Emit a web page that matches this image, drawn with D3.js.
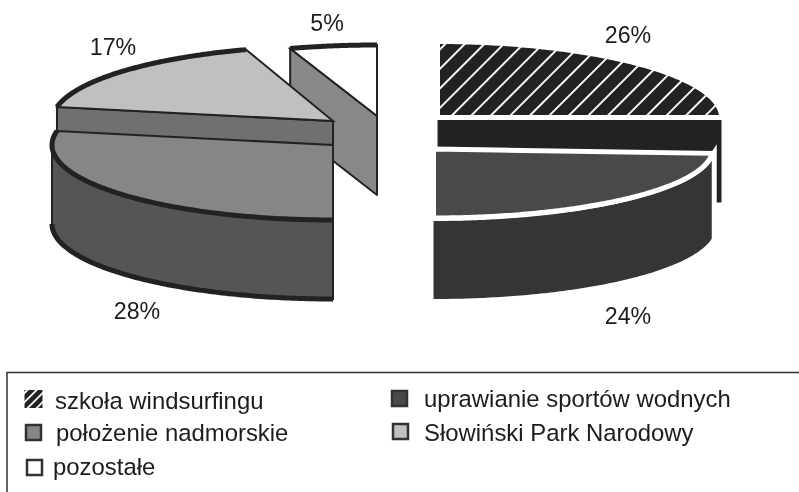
<!DOCTYPE html>
<html><head><meta charset="utf-8">
<script src="https://cdn.jsdelivr.net/npm/d3@7"></script>
<style>html,body{margin:0;padding:0;background:#fff}svg{display:block}text{font-family:"Liberation Sans",Arial,sans-serif;fill:#1c1c1c}</style>
</head><body><svg id="c" width="799" height="492"></svg>
<script>
const categories = ["szkoła windsurfingu","uprawianie sportów wodnych","położenie nadmorskie","Słowiński Park Narodowy","pozostałe"];
const values = [26,24,28,17,5];
const faceColors = ["url(#hatch)","#4a4a4a","#868686","#c0c0c0","#ffffff"];
const wallColors = ["#222222","#353535","#555555","#707070","#888888"];
const pivotX = [437.5,433.5,333,333,377];
const pivotY = [117.5,149,145,121,116];
const radiusX = [284,279,281,281,281];
const radiusY = [76,69,75,75,71];
const edgeTilt = [-0.0628,0,0,0,0];
const wallPad = [0,3,0,0,0];
const wallLimit = [Infinity,712,Infinity,Infinity,Infinity];
const wallExtra = [6,-1,0,0,0];
const labelX = [628,628,137,113,327];
const labelY = [43,324,319,55,31];
const legendX = [24.5,391,25,392,26];
const legendY = [390,390,424,423,459];
const legendSize = [18,15,15,15,15];
const legendTextX = [55,424,56,424,53];
const legendBase = [409,407,441,441,475];
const drawOrder = [4,0,3,1,2];

const svg = d3.select("#c");
const defs = svg.append("defs");
function hatch(id,size,w){
  const p = defs.append("pattern").attr("id",id).attr("patternUnits","userSpaceOnUse")
    .attr("width",size).attr("height",size).attr("patternTransform","rotate(45)");
  p.append("rect").attr("width",size).attr("height",size).attr("fill","#222");
  p.append("rect").attr("width",w).attr("height",size).attr("fill","#fff");
}
hatch("hatch",13.8,1.9);
hatch("hatchS",6.4,1.7);
defs.append("filter").attr("id","soft").append("feGaussianBlur").attr("stdDeviation",0.45);
const root = svg.append("g").attr("filter","url(#soft)");

const arcs = d3.pie().sort(null).value(d=>d)(values);
const depth = 79;
const line = d3.line().x(d=>d[0]).y(d=>d[1]);
function rim(i,a,b,dy=0,pad=0){
  const n = 120;
  return d3.range(n+1).map(k=>{
    const t = a+(b-a)*k/n;
    return [pivotX[i]+(radiusX[i]+pad)*Math.sin(t), pivotY[i]+dy-(radiusY[i]+pad)*Math.cos(t)];
  });
}
const dark = "#222";
drawOrder.forEach(i=>{
  const a = arcs[i].startAngle, b = arcs[i].endAngle+edgeTilt[i], P=[pivotX[i],pivotY[i]], white = i<2;
  const g = root.append("g");
  const wStroke = white ? "none" : dark;
  const d = depth+wallExtra[i];
  const edge = i<2 ? b : a;
  if(i!==1){
    const e = rim(i,edge,edge)[0];
    g.append("path").attr("d",line([P,e,[e[0],e[1]+d],[P[0],P[1]+d]])+"Z")
      .attr("fill",wallColors[i]).attr("stroke",wStroke).attr("stroke-width",2).attr("stroke-linejoin","round");
  }
  const lo = Math.max(a,Math.PI/2), hi = Math.min(b,Math.PI*1.5);
  if(hi>lo){
    const keep = p=>p[0]<=wallLimit[i];
    const top = rim(i,lo,hi,0,wallPad[i]).filter(keep), bot = rim(i,lo,hi,d,wallPad[i]).filter(keep).reverse();
    const wall = g.append("path").attr("d",line(top.concat(bot))+"Z").attr("fill",wallColors[i]);
    if(i===1) wall.attr("stroke","#fff").attr("stroke-width",10).style("paint-order","stroke");
    else wall.attr("stroke",wStroke).attr("stroke-width",2);
    if(!white) g.append("path").attr("d",line(rim(i,lo,hi,d))).attr("fill","none").attr("stroke",dark).attr("stroke-width",5);
  }
  const face = [P].concat(rim(i,a,b));
  g.append("path").attr("d",line(face)+"Z").attr("fill",faceColors[i])
    .attr("stroke",white?"#fff":dark).attr("stroke-width",white?5:2).attr("stroke-linejoin","miter");
  if(!white) g.append("path").attr("d",line(rim(i,a,b))).attr("fill","none").attr("stroke",dark).attr("stroke-width",5);
});

root.selectAll("text.pct").data(values).join("text").attr("class","pct")
  .attr("x",(d,i)=>labelX[i]).attr("y",(d,i)=>labelY[i]).attr("text-anchor","middle")
  .attr("font-size",23.2).text(d=>d+"%");

root.append("path").attr("d","M7,492V372.5H799").attr("fill","none").attr("stroke","#333").attr("stroke-width",1.5);
const legendFill = ["url(#hatchS)","#4a4a4a","#868686","#c0c0c0","#ffffff"];
root.selectAll("rect.sw").data(categories).join("rect").attr("class","sw")
  .attr("x",(d,i)=>i?legendX[i]+1:legendX[i]).attr("y",(d,i)=>i?legendY[i]+1:legendY[i]).attr("width",(d,i)=>legendSize[i]).attr("height",(d,i)=>legendSize[i])
  .attr("fill",(d,i)=>legendFill[i]).attr("stroke",(d,i)=>i?"#333":"none").attr("stroke-width",2.5);
root.selectAll("text.lg").data(categories).join("text").attr("class","lg")
  .attr("x",(d,i)=>legendTextX[i]).attr("y",(d,i)=>legendBase[i]).attr("font-size",23.9).text(d=>d);
</script></body></html>
